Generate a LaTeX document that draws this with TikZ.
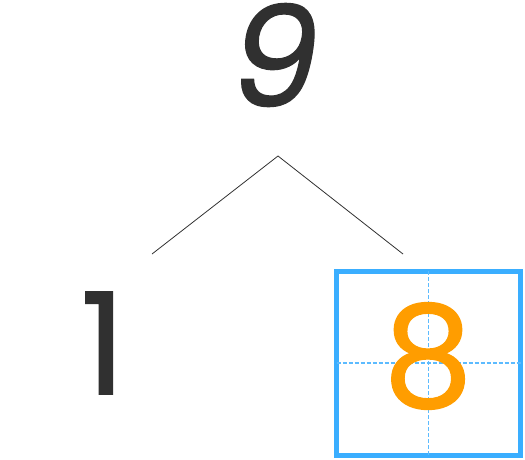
\documentclass[tikz,border=0pt]{standalone}
\usepackage{fontspec}
\newfontfamily\digitfont[FakeBold=0.9]{Poppins}
\definecolor{ink}{HTML}{303030}
\definecolor{boxblue}{HTML}{3AAEFF}
\definecolor{gridblue}{HTML}{5CBBFF}
\definecolor{digitorange}{HTML}{FF9D00}
\tikzset{
  digit/.style={inner sep=0pt, font=\digitfont\fontsize{142}{142}\selectfont},
  slantdigit/.style={inner sep=0pt, font=\digitfont\itshape\fontsize{140}{140}\selectfont},
  branch/.style={draw=ink, line width=0.8pt},
  gridbox/.style={draw=boxblue, line width=5pt, minimum size=184pt, inner sep=0pt},
  guide/.style={draw=gridblue, line width=1.3pt, dash pattern=on 4pt off 2pt}
}
\begin{document}
\begin{tikzpicture}[x=1pt,y=-1pt]
\useasboundingbox (0,0) rectangle (525,459);
\node[slantdigit, text=ink] (nine) at (275,55) {9};
\node[digit, text=ink] (one) at (103,343) {1};
\node[gridbox] (box) at (428.5,363) {};
\draw[guide, shorten <=2.5pt, shorten >=2.5pt] (box.north) -- (box.south);
\draw[guide, shorten <=2.5pt, shorten >=2.5pt] (box.west) -- (box.east);
\node[digit, text=digitorange] (eight) at (428,356) {8};
\coordinate (apex) at (278,156);
\coordinate (leftend) at (152,254);
\coordinate (rightend) at (403,254);
\draw[branch] (leftend) -- (apex) -- (rightend);
\end{tikzpicture}
\end{document}
